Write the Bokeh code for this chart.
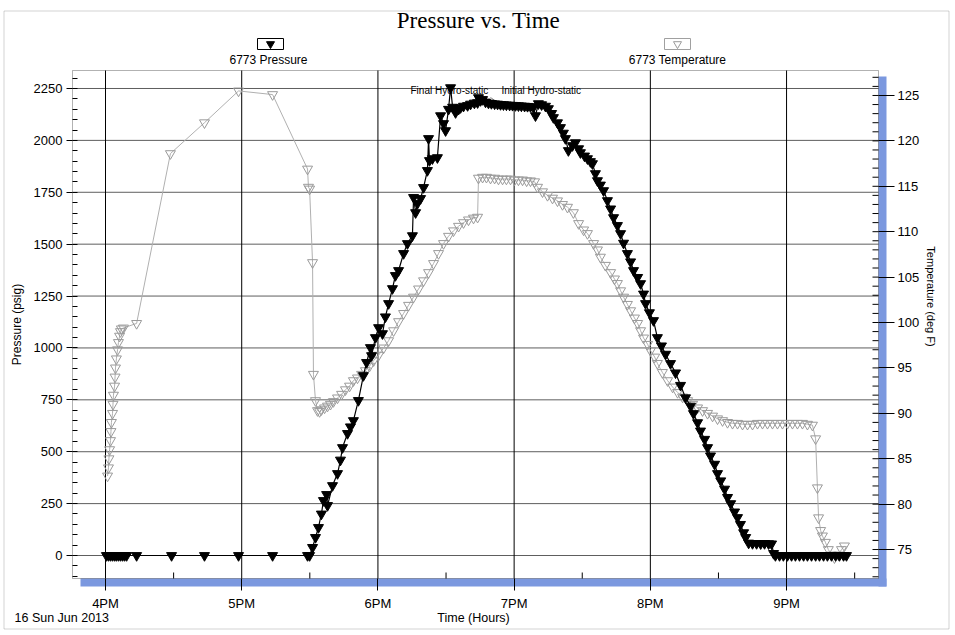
import math
from bokeh.plotting import figure
from bokeh.models import Range1d, LinearAxis, FixedTicker, BoxAnnotation
from bokeh.embed import file_html
from bokeh.resources import INLINE
from bokeh.core.properties import value

# ---- data: time in minutes after 4PM (16 Jun 2013) ----
p_time = [0.4, 1.3, 2.2, 3.1, 4.0, 4.8, 5.7, 6.6, 7.5, 8.4, 9.3, 13.7, 29.1, 43.6, 58.6, 73.6, 89.0, 89.9,
          91.2, 92.5, 93.8, 95.1, 96.0, 97.4, 97.8, 100.0, 102.2, 103.5,
          104.4, 106.6, 107.9, 109.2, 111.4, 113.6, 115.0, 116.7, 117.2, 118.9,
          120.3, 122.0, 123.3, 124.7, 126.4, 127.7, 129.1, 131.3, 133.0, 135.2,
          135.7, 136.6, 137.4, 138.8, 140.1, 141.8, 142.3, 142.7, 144.0, 146.2,
          147.6, 148.9, 149.8, 151.1, 152.0, 152.9, 154.2, 155.5, 156.4, 157.7,
          159.5, 160.8, 162.5, 163.9, 164.3, 165.2, 166.1, 167.4, 168.7, 170.0,
          171.4, 172.7, 174.0, 175.3, 176.6, 178.0, 179.3, 180.6, 181.9, 183.2,
          184.6, 185.9, 187.2, 188.5, 189.4, 190.7, 192.1, 193.8, 195.1, 196.5,
          197.3, 199.1, 200.4, 201.7, 202.6, 203.9, 205.7, 207.0, 208.4, 209.2,
          211.0, 212.3, 213.6, 214.5, 215.8, 216.7, 218.0, 219.4, 221.1, 222.5,
          223.8, 225.5, 226.9, 228.2, 229.9, 231.3, 232.6, 234.4, 235.7, 237.0,
          237.9, 239.6, 241.4, 243.1, 244.9, 246.7, 248.9, 251.1, 253.3, 255.5,
          257.7, 259.0, 260.8, 262.1, 263.9, 265.2, 266.5, 268.3, 269.6, 271.0,
          272.7, 274.0, 275.4, 277.1, 278.4, 279.7, 281.1, 282.0, 283.3, 285.0,
          286.8, 288.6, 290.3, 292.1, 293.4, 294.3, 295.1, 296.9, 298.6, 300.4,
          302.2, 303.9, 305.7, 307.5, 309.2, 311.0, 312.8, 314.5, 316.3, 318.0,
          319.8, 321.6, 323.3, 325.1, 326.4]
p_psig = [0] * 18 + [
          39, 87, 135, 200, 265, 294, 241, 337, 395, 460,
          520, 588, 620, 650, 747, 867, 930, 1002, 963, 1050,
          1098, 1069, 1150, 1214, 1286, 1349, 1373, 1455, 1503, 1541,
          1725, 1652, 1696, 1720, 1773, 1855, 2009, 1903, 1912, 1917,
          2119, 2081, 2047, 2150, 2254, 2160, 2134, 2150, 2158, 2165,
          2168, 2175, 2180, 2182, 2206, 2192, 2197, 2185, 2180, 2178,
          2176, 2175, 2173, 2172, 2171, 2170, 2169, 2168, 2167, 2166,
          2165, 2164, 2163, 2160, 2119, 2177, 2172, 2165, 2153, 2130,
          2110, 2085, 2062, 2035, 2009, 1951, 1975, 1989, 1960, 1941,
          1925, 1912, 1898, 1888, 1840, 1806, 1785, 1758, 1710, 1670,
          1628, 1590, 1551, 1505, 1455, 1415, 1373, 1340, 1310, 1260,
          1214, 1170, 1132, 1050, 1010, 970, 925, 880, 820, 760,
          720, 684, 640, 600, 560, 520, 480, 440, 395, 360,
          320, 280, 250, 210, 183, 150, 110, 87, 60, 58,
          58, 57, 58, 57, 56, 10, 0, 0, 0, 0] + [0] * 15

t_time = [0.9, 1.3, 1.5, 1.8, 2.2, 2.4, 2.6, 3.1, 3.3, 3.5,
          4.0, 4.2, 4.4, 4.8, 5.3, 5.7, 6.2, 6.6, 7.0, 7.9,
          13.7, 28.6, 43.6, 58.6, 73.6, 89.0, 89.4, 89.9, 91.2, 91.6,
          92.5, 93.4, 94.3, 95.1, 96.5, 97.8, 99.1, 100.4, 102.2, 104.0,
          105.7, 107.5, 109.2, 111.0, 112.8, 114.5, 116.3, 118.1, 120.3, 122.5,
          124.7, 126.9, 129.1, 131.3, 133.5, 135.7, 137.9, 140.1, 142.3, 144.5,
          146.7, 148.9, 151.1, 153.3, 155.5, 157.7, 159.9, 162.1, 163.9, 164.3,
          166.1, 167.8, 169.6, 171.4, 173.1, 174.9, 176.6, 178.4, 180.2, 181.9,
          183.7, 185.5, 187.2, 189.0, 190.3, 192.5, 194.7, 196.9, 199.1, 201.3,
          203.5, 206.1, 208.4, 210.6, 212.3, 215.0, 216.7, 218.0, 220.2, 222.5,
          224.2, 225.5, 226.9, 228.2, 229.9, 231.3, 233.0, 234.4, 235.7, 237.0,
          238.8, 240.1, 241.9, 243.1, 245.3, 247.6, 249.8, 252.0, 254.2, 256.4,
          258.6, 260.8, 263.0, 265.2, 267.4, 269.6, 271.8, 274.0, 276.2, 278.4,
          280.6, 282.8, 285.0, 287.2, 289.4, 291.6, 293.8, 296.0, 298.2, 300.4,
          302.6, 304.8, 307.0, 309.2, 311.4, 312.8, 313.6, 314.1, 315.0, 315.8,
          317.1, 318.4, 319.8, 321.1, 322.9, 324.2, 325.5]
t_degf = [83.1, 84.0, 85.0, 86.0, 87.0, 88.0, 89.0, 90.0, 91.0, 92.0,
          93.0, 94.0, 95.0, 96.0, 97.0, 97.8, 98.5, 99.0, 99.3, 99.4,
          99.9, 118.6, 122.0, 125.5, 125.1, 116.9, 114.9, 114.7, 106.6, 94.3,
          91.4, 90.3, 90.2, 90.4, 90.6, 90.8, 91.0, 91.3, 91.7, 92.1,
          92.6, 93.0, 93.6, 93.9, 94.3, 94.7, 95.2, 95.8, 96.4, 97.2,
          98.0, 99.1, 100.1, 101.0, 101.9, 102.8, 103.7, 104.6, 105.5, 106.5,
          107.6, 108.7, 109.5, 110.1, 110.6, 111.0, 111.3, 111.5, 111.6, 115.9,
          116.0, 116.0, 115.9, 115.9, 115.8, 115.8, 115.8, 115.8, 115.7, 115.7,
          115.7, 115.6, 115.6, 115.5, 114.9, 114.4, 114.0, 113.7, 113.4, 113.0,
          112.7, 112.1, 110.9, 110.2, 109.8, 108.7, 108.0, 107.2, 106.3, 105.5,
          104.8, 104.3, 103.5, 102.8, 102.0, 101.3, 100.5, 99.9, 99.1, 98.3,
          97.6, 96.9, 96.2, 95.5, 94.5, 93.6, 92.9, 92.3, 91.8, 91.4,
          91.0, 90.6, 90.3, 90.0, 89.7, 89.4, 89.2, 89.0, 88.9, 88.9,
          88.8, 88.8, 88.8, 88.9, 88.9, 88.9, 88.9, 88.9, 88.9, 88.9,
          88.9, 88.9, 88.9, 88.8, 88.7, 87.2, 81.8, 78.5, 77.1, 76.5,
          75.8, 75.0, 74.4, 74.1, 74.4, 75.0, 75.4]

hour_ticks = [0, 60, 120, 180, 240, 300]
hour_labels = ["4PM", "5PM", "6PM", "7PM", "8PM", "9PM"]
half_hours = [30, 90, 150, 210, 270, 330]
psig_ticks = [0, 250, 500, 750, 1000, 1250, 1500, 1750, 2000, 2250]
psig_minor = list(range(-100, 2301, 50))
degf_ticks = [75, 80, 85, 90, 95, 100, 105, 110, 115, 120, 125]
degf_minor = list(range(72, 128))
series_names = ["6773 Pressure", "6773 Temperature"]
chart_title = "Pressure vs. Time"
date_text = "16 Sun Jun 2013"
x_title = "Time (Hours)"
y_title = "Pressure (psig)"
y2_title = "Temperature (deg F)"
notes = ["Final Hydro-static", "Initial Hydro-static"]

assert len(p_time) == len(p_psig) and len(t_time) == len(t_degf)

SANS = "Liberation Sans"
SERIF = "Liberation Serif"
SHADOW = "#7b98df"
TEMP_COL = "#9a9a9a"

# ---- geometry in page pixels (the canvas starts at the page corner) ----
W, H = 951, 631
BOX_L, BOX_R, BOX_T, BOX_B = 72, 878, 70, 578
SH = 8                                   # depth of the blue shadow

X0, XB = -14.54, 340.5                  # minutes at the box left / right edge
dx = (XB - X0) / (BOX_R - BOX_L)
P_TOP, P_BOT = 2336.7, -110.8           # psig at box top / bottom
dy = (P_TOP - P_BOT) / (BOX_B - BOX_T)
T_TOP, T_BOT = 127.75, 71.81            # deg F at box top / bottom
dt = (T_TOP - T_BOT) / (BOX_B - BOX_T)


def gx(px):
    return X0 + (px - BOX_L) * dx


def gy(py):
    return P_TOP - (py - BOX_T) * dy


def gt(py):
    return T_TOP - (py - BOX_T) * dt


p = figure(width=W, height=H, output_backend="svg", toolbar_location=None,
           x_range=Range1d(gx(0), gx(W)), y_range=Range1d(gy(H), gy(0)), min_border=0)
p.extra_y_ranges = {"temp": Range1d(gt(H), gt(0))}
p.outline_line_color = None
p.background_fill_color = "white"
p.border_fill_color = "white"
p.xgrid.visible = False
p.ygrid.visible = False

# outer frame of the picture
p.add_layout(BoxAnnotation(left=gx(3.5), right=gx(948.5), top=gy(10.5), bottom=gy(628.5),
                           fill_alpha=0, line_color="#6a6a6a", line_width=1, level="underlay"))

# blue drop shadow of the plot box
p.add_layout(BoxAnnotation(left=XB, right=gx(BOX_R + SH), top=gy(BOX_T + 6), bottom=gy(BOX_B + SH),
                           fill_color=SHADOW, fill_alpha=1, line_color=None, level="underlay"))
p.add_layout(BoxAnnotation(left=gx(BOX_L + SH), right=gx(BOX_R + SH), top=P_BOT, bottom=gy(BOX_B + SH),
                           fill_color=SHADOW, fill_alpha=1, line_color=None, level="underlay"))

# grid lines limited to the plot box
p.segment(x0=[X0] * len(psig_ticks), y0=psig_ticks, x1=[XB] * len(psig_ticks), y1=psig_ticks,
          line_color="#5e5e5e", line_width=1)
p.segment(x0=hour_ticks, y0=[P_BOT] * len(hour_ticks), x1=hour_ticks, y1=[P_TOP] * len(hour_ticks),
          line_color="black", line_width=1)

# axes pinned to the edges of the box
xa = p.xaxis[0]
xa.fixed_location = gy(BOX_B + SH)
xa.ticker = FixedTicker(ticks=hour_ticks)
xa.major_label_overrides = dict(zip(hour_ticks, hour_labels))
xa.major_tick_in = SH
xa.major_tick_out = 4
xa.major_label_standoff = 5

ya = p.yaxis[0]
ya.fixed_location = X0
ya.ticker = FixedTicker(ticks=psig_ticks, minor_ticks=psig_minor)
ya.major_tick_in = 0
ya.major_tick_out = 6
ya.minor_tick_in = 5
ya.minor_tick_out = 0
ya.major_label_standoff = 4

ra = LinearAxis(y_range_name="temp")
ra.fixed_location = gx(BOX_R + SH)
ra.ticker = FixedTicker(ticks=degf_ticks)
ra.major_tick_in = SH
ra.major_tick_out = 8
ra.major_label_standoff = 3
p.add_layout(ra, "right")

for ax in (xa, ya, ra):
    ax.axis_line_color = None
    ax.major_tick_line_color = "black"
    ax.minor_tick_line_color = "black" if ax is ya else None
    ax.major_label_text_font = SANS
    ax.major_label_text_font_size = "13px"
    ax.major_label_text_color = "black"

# inward minor ticks on the bottom and right edges of the box
p.segment(x0=half_hours, y0=[P_BOT] * len(half_hours), x1=half_hours, y1=[P_BOT + 6 * dy] * len(half_hours),
          line_color="black", line_width=1)
p.segment(x0=[XB - 6 * dx] * len(degf_minor), y0=degf_minor, x1=[XB] * len(degf_minor), y1=degf_minor,
          y_range_name="temp", line_color="black", line_width=1)

# title and legend above the box
p.text(x=[gx(478)], y=[gy(20)], text=[chart_title], text_align="center", text_baseline="middle",
       text_font=value(SERIF), text_font_size="23px", text_color="black")
leg_x = [gx(270), gx(677)]
p.rect(x=leg_x, y=[gy(43.5)] * 2, width=26 * dx, height=11 * dy, fill_color="white",
       line_color=["black", "#a0a0a0"], line_width=1)
p.scatter(x=[leg_x[0]], y=[gy(43.5)], marker="inverted_triangle", size=8,
          fill_color="black", line_color="black")
p.scatter(x=[leg_x[1]], y=[gy(43.5)], marker="inverted_triangle", size=8,
          fill_alpha=0, line_color=TEMP_COL)
p.text(x=[gx(268), gx(677)], y=[gy(59)] * 2, text=series_names, text_align="center",
       text_baseline="middle", text_font=value(SANS), text_font_size="12px", text_color="black")

# axis titles, date
p.text(x=[gx(16)], y=[gy(324)], text=[y_title], angle=math.pi / 2, text_align="center",
       text_baseline="middle", text_font=value(SANS), text_font_size="12px", text_color="black")
p.text(x=[gx(930)], y=[gy(296)], text=[y2_title], angle=-math.pi / 2, text_align="center",
       text_baseline="middle", text_font=value(SANS), text_font_size="11px", text_color="black")
p.text(x=[gx(473)], y=[gy(617)], text=[x_title], text_align="center", text_baseline="middle",
       text_font=value(SANS), text_font_size="12.5px", text_color="black")
p.text(x=[gx(14)], y=[gy(617)], text=[date_text], text_align="left", text_baseline="middle",
       text_font=value(SANS), text_font_size="12.5px", text_color="black")

# annotations
p.text(x=[gx(410), gx(501)], y=[gy(90)] * 2, text=notes, text_align="left", text_baseline="middle",
       text_font=value(SANS), text_font_size="10px", text_color="black")
p.segment(x0=[gx(490)], y0=[gy(97)], x1=[gx(496)], y1=[gy(101)], line_color="#888888", line_width=1)

# series
p.line(t_time, t_degf, y_range_name="temp", line_color="#b0b0b0", line_width=1)
p.scatter(t_time, t_degf, y_range_name="temp", marker="inverted_triangle", size=10,
          fill_alpha=0, line_color=TEMP_COL, line_width=1)
p.line(p_time, p_psig, line_color="black", line_width=1.2)
p.scatter(p_time, p_psig, marker="inverted_triangle", size=10, fill_color="black", line_color="black")

# plot box outline
p.add_layout(BoxAnnotation(left=X0, right=XB, top=P_TOP, bottom=P_BOT,
                           fill_alpha=0, line_color="black", line_width=1))

open("out.html", "w").write(file_html(p, INLINE))
